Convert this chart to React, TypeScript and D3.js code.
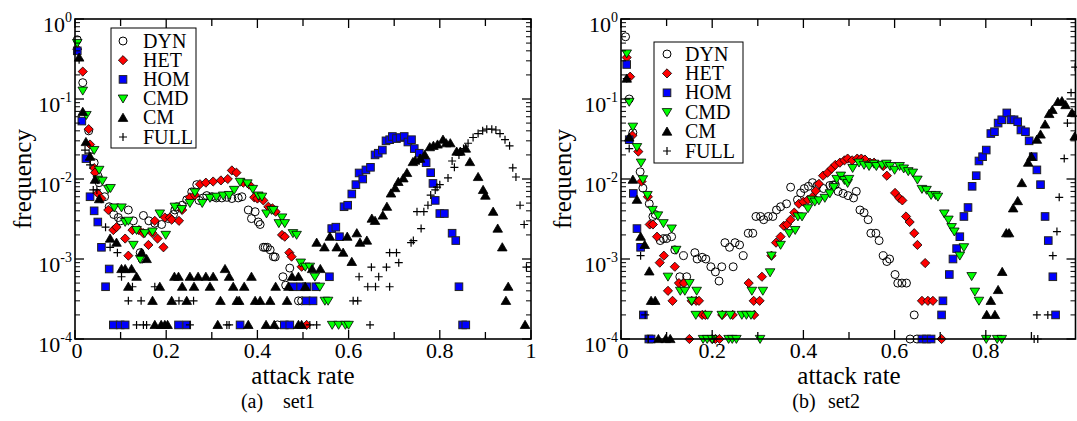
import React from 'react';
import * as d3 from 'd3';

// ---------- tick / legend text ----------
const xTickValues = [0, 0.2, 0.4, 0.6, 0.8, 1];
const xTickLabels = ['0', '0.2', '0.4', '0.6', '0.8', '1'];
const yTickValues = [1e-4, 1e-3, 1e-2, 1e-1, 1];
const yTickExponents = ['-4', '-3', '-2', '-1', '0'];
const seriesNames = ['DYN', 'HET', 'HOM', 'CMD', 'CM', 'FULL'];

// ---------- set1 (panel a) ----------
const set1DYN: [number, number][] = [
  [0.005, 0.55], [0.017, 0.16], [0.03, 0.04], [0.042, 0.016], [0.05, 0.011], [0.053, 0.009], [0.065, 0.006],
  [0.075, 0.0045], [0.085, 0.0036], [0.095, 0.0033], [0.1, 0.003], [0.117, 0.0041], [0.128, 0.003], [0.143, 0.0012],
  [0.147, 0.001], [0.15, 0.0035], [0.162, 0.003], [0.175, 0.0028], [0.19, 0.0027], [0.205, 0.0032], [0.216, 0.0036],
  [0.219, 0.0041], [0.223, 0.0045], [0.235, 0.0047], [0.245, 0.0055], [0.256, 0.0069], [0.267, 0.0085], [0.272, 0.0054],
  [0.281, 0.0058], [0.289, 0.0062], [0.3, 0.006], [0.31, 0.0058], [0.322, 0.0058], [0.333, 0.0059], [0.344, 0.0057],
  [0.358, 0.0058], [0.366, 0.006], [0.38, 0.0041], [0.387, 0.0032], [0.395, 0.0039], [0.402, 0.0029], [0.406, 0.0027],
  [0.413, 0.0014], [0.417, 0.0014], [0.422, 0.0014], [0.428, 0.0013], [0.435, 0.00107], [0.439, 0.00106],
  [0.444, 0.00015], [0.456, 0.0006], [0.462, 0.00047], [0.471, 0.00077], [0.49, 0.0003], [0.497, 0.0003],
];
const set1HET: [number, number][] = [
  [0.005, 0.42], [0.017, 0.22], [0.03, 0.042], [0.033, 0.027], [0.042, 0.0137], [0.044, 0.012], [0.05, 0.0066],
  [0.058, 0.0057], [0.073, 0.0041], [0.084, 0.0023], [0.091, 0.0025], [0.11, 0.0018], [0.117, 0.0011], [0.126, 0.0023],
  [0.14, 0.0023], [0.15, 0.0021], [0.161, 0.0015], [0.17, 0.0021], [0.175, 0.003], [0.181, 0.0018], [0.194, 0.0014],
  [0.197, 0.0033], [0.208, 0.0033], [0.212, 0.0031], [0.228, 0.003], [0.235, 0.0041], [0.252, 0.0059], [0.263, 0.0063],
  [0.274, 0.0086], [0.287, 0.009], [0.303, 0.0093], [0.32, 0.0096], [0.335, 0.01], [0.344, 0.0128], [0.354, 0.012],
  [0.369, 0.009], [0.382, 0.0085], [0.393, 0.0059], [0.4, 0.0057], [0.413, 0.0054], [0.424, 0.0045], [0.433, 0.0043],
  [0.44, 0.0039], [0.454, 0.002], [0.46, 0.0019], [0.47, 0.0012], [0.475, 0.00107], [0.497, 0.0008], [0.508, 0.00015],
];
const set1HOM: [number, number][] = [
  [0.005, 0.4], [0.015, 0.053], [0.024, 0.018], [0.033, 0.006], [0.042, 0.004], [0.05, 0.0029], [0.058, 0.0014],
  [0.067, 0.00045], [0.075, 0.00075], [0.084, 0.00015], [0.099, 0.00015], [0.11, 0.00015], [0.227, 0.00015],
  [0.245, 0.00015], [0.362, 0.00015], [0.459, 0.00015], [0.471, 0.00015], [0.478, 0.00045], [0.495, 0.00045],
  [0.507, 0.0003], [0.508, 0.00045], [0.522, 0.0003], [0.528, 0.00045], [0.558, 0.0006], [0.563, 0.0024],
  [0.572, 0.0025], [0.58, 0.0019], [0.59, 0.0045], [0.598, 0.0047], [0.607, 0.0065], [0.616, 0.0085], [0.623, 0.0119],
  [0.631, 0.01], [0.638, 0.013], [0.648, 0.014], [0.658, 0.02], [0.665, 0.021], [0.674, 0.023], [0.682, 0.03],
  [0.69, 0.031], [0.696, 0.034], [0.705, 0.032], [0.713, 0.033], [0.722, 0.034], [0.73, 0.029], [0.738, 0.031],
  [0.744, 0.024], [0.755, 0.021], [0.763, 0.018], [0.77, 0.016], [0.78, 0.012], [0.785, 0.0088], [0.79, 0.0054],
  [0.8, 0.0037], [0.81, 0.0037], [0.827, 0.0021], [0.835, 0.0017], [0.842, 0.00045], [0.85, 0.00015], [0.857, 0.00015],
];
const set1CMD: [number, number][] = [
  [0.005, 0.5], [0.017, 0.127], [0.025, 0.063], [0.042, 0.023], [0.05, 0.0098], [0.053, 0.013], [0.06, 0.0095],
  [0.073, 0.0075], [0.078, 0.0077], [0.086, 0.0044], [0.102, 0.0044], [0.11, 0.0029], [0.117, 0.003], [0.128, 0.0015],
  [0.135, 0.0023], [0.143, 0.001], [0.153, 0.0021], [0.17, 0.0022], [0.186, 0.0037], [0.199, 0.002], [0.219, 0.0045],
  [0.234, 0.0042], [0.252, 0.005], [0.263, 0.0068], [0.279, 0.005], [0.296, 0.0058], [0.31, 0.006], [0.325, 0.0062],
  [0.338, 0.0063], [0.349, 0.0073], [0.362, 0.0092], [0.378, 0.0088], [0.39, 0.0075], [0.402, 0.0062], [0.41, 0.006],
  [0.42, 0.0037], [0.431, 0.0041], [0.435, 0.0041], [0.447, 0.0028], [0.454, 0.0033], [0.46, 0.0028], [0.478, 0.0021],
  [0.486, 0.002], [0.495, 0.0009], [0.505, 0.0008], [0.515, 0.0008], [0.526, 0.0006], [0.537, 0.00045],
  [0.548, 0.0003], [0.555, 0.0003], [0.564, 0.00015], [0.578, 0.00015], [0.593, 0.00015], [0.6, 0.00015],
];
const set1CM: [number, number][] = [
  [0.009, 0.33], [0.017, 0.069], [0.024, 0.029], [0.033, 0.019], [0.044, 0.0098], [0.053, 0.0056], [0.077, 0.0018],
  [0.091, 0.0016], [0.102, 0.00075], [0.11, 0.00075], [0.117, 0.00045], [0.124, 0.00075], [0.135, 0.0006],
  [0.146, 0.0012], [0.157, 0.001], [0.17, 0.0003], [0.175, 0.00015], [0.186, 0.00045], [0.189, 0.00015],
  [0.197, 0.00015], [0.203, 0.00015], [0.212, 0.0003], [0.218, 0.0006], [0.227, 0.0006], [0.235, 0.00045],
  [0.245, 0.0003], [0.252, 0.0006], [0.261, 0.00045], [0.27, 0.0006], [0.287, 0.0006], [0.296, 0.00045],
  [0.303, 0.0006], [0.313, 0.00015], [0.319, 0.0003], [0.329, 0.00075], [0.338, 0.0006], [0.347, 0.00045],
  [0.355, 0.0003], [0.36, 0.0003], [0.371, 0.00045], [0.38, 0.00015], [0.387, 0.0006], [0.395, 0.0003],
  [0.406, 0.0003], [0.419, 0.00015], [0.428, 0.0003], [0.437, 0.00015], [0.44, 0.00045], [0.465, 0.0003],
  [0.468, 0.00045], [0.476, 0.0006], [0.49, 0.0006], [0.49, 0.00015], [0.497, 0.00015], [0.505, 0.00045],
  [0.52, 0.00075], [0.53, 0.0016], [0.538, 0.00075], [0.547, 0.0014], [0.559, 0.0019], [0.574, 0.0014],
  [0.588, 0.0012], [0.597, 0.0019], [0.607, 0.00092], [0.618, 0.0021], [0.625, 0.0016], [0.64, 0.0017],
  [0.651, 0.0032], [0.658, 0.003], [0.675, 0.0035], [0.684, 0.0045], [0.693, 0.0066], [0.702, 0.0077],
  [0.709, 0.0092], [0.72, 0.0102], [0.728, 0.0119], [0.741, 0.0163], [0.746, 0.017], [0.757, 0.018], [0.767, 0.02],
  [0.778, 0.025], [0.786, 0.026], [0.795, 0.027], [0.807, 0.031], [0.814, 0.028], [0.823, 0.028], [0.837, 0.022],
  [0.845, 0.022], [0.857, 0.024], [0.866, 0.0163], [0.884, 0.0106], [0.895, 0.0073], [0.9, 0.0062], [0.917, 0.0039],
  [0.927, 0.0024], [0.937, 0.0014], [0.945, 0.0003], [0.95, 0.00045], [0.987, 0.00015],
];
const set1FULL: [number, number][] = [
  [0.009, 0.31], [0.022, 0.023], [0.031, 0.021], [0.033, 0.015], [0.04, 0.0073], [0.048, 0.0073], [0.067, 0.0025],
  [0.077, 0.0014], [0.093, 0.0012], [0.102, 0.0006], [0.117, 0.0003], [0.126, 0.00045], [0.135, 0.00015],
  [0.145, 0.0003], [0.15, 0.00015], [0.157, 0.00015], [0.175, 0.00045], [0.228, 0.0003], [0.252, 0.00015],
  [0.26, 0.0003], [0.333, 0.00015], [0.338, 0.00015], [0.515, 0.00015], [0.53, 0.00015], [0.61, 0.0003],
  [0.62, 0.0003], [0.623, 0.0006], [0.642, 0.00045], [0.647, 0.00015], [0.65, 0.00079], [0.659, 0.00045],
  [0.666, 0.0006], [0.683, 0.00079], [0.69, 0.0012], [0.69, 0.00045], [0.705, 0.0012], [0.71, 0.0009],
  [0.737, 0.0016], [0.742, 0.0017], [0.75, 0.0039], [0.759, 0.0024], [0.765, 0.0039], [0.774, 0.0047], [0.78, 0.0063],
  [0.79, 0.0073], [0.794, 0.0079], [0.8, 0.0085], [0.818, 0.0103], [0.827, 0.0168], [0.832, 0.014], [0.842, 0.02],
  [0.852, 0.024], [0.862, 0.028], [0.873, 0.033], [0.884, 0.037], [0.894, 0.04], [0.903, 0.042], [0.914, 0.042],
  [0.923, 0.041], [0.932, 0.037], [0.943, 0.031], [0.953, 0.026], [0.96, 0.0138], [0.967, 0.0106], [0.976, 0.0047],
  [0.985, 0.0027], [0.99, 0.00079],
];

// ---------- set2 (panel b) ----------
const set2DYN: [number, number][] = [
  [0.01, 0.6], [0.018, 0.1], [0.026, 0.038], [0.042, 0.0123], [0.048, 0.0077], [0.062, 0.0049], [0.07, 0.0034],
  [0.075, 0.0036], [0.086, 0.0017], [0.093, 0.0018], [0.1, 0.0018], [0.111, 0.0019], [0.118, 0.0013], [0.129, 0.0006],
  [0.137, 0.0011], [0.144, 0.0006], [0.162, 0.0012], [0.167, 0.001], [0.178, 0.00105], [0.186, 0.001], [0.197, 0.0008],
  [0.207, 0.00069], [0.215, 0.00053], [0.221, 0.0008], [0.228, 0.0016], [0.238, 0.0014], [0.246, 0.0008],
  [0.25, 0.0016], [0.26, 0.0015], [0.268, 0.0011], [0.279, 0.0021], [0.289, 0.0021], [0.296, 0.0034], [0.306, 0.0034],
  [0.313, 0.0031], [0.323, 0.0034], [0.333, 0.0034], [0.341, 0.0041], [0.35, 0.0045], [0.363, 0.0049],
  [0.372, 0.0079], [0.387, 0.0055], [0.394, 0.0067], [0.402, 0.0076], [0.411, 0.0081], [0.42, 0.009], [0.43, 0.0083],
  [0.444, 0.0076], [0.458, 0.0083], [0.465, 0.0084], [0.47, 0.0085], [0.476, 0.007], [0.487, 0.0066],
  [0.498, 0.0062], [0.51, 0.0058], [0.516, 0.007], [0.524, 0.0041], [0.533, 0.0038], [0.542, 0.0031],
  [0.548, 0.0021], [0.559, 0.0021], [0.566, 0.0017], [0.575, 0.0011], [0.583, 0.00093], [0.589, 0.001],
  [0.601, 0.00064], [0.607, 0.0005], [0.616, 0.0005], [0.626, 0.0005], [0.634, 0.0001], [0.643, 0.0002],
  [0.649, 0.0001],
];
const set2HET: [number, number][] = [
  [0.0125, 0.33], [0.02, 0.19], [0.025, 0.035], [0.038, 0.022], [0.045, 0.0093], [0.059, 0.006], [0.063, 0.0027],
  [0.07, 0.0027], [0.079, 0.0019], [0.085, 0.0009], [0.094, 0.0011], [0.103, 0.0004], [0.113, 0.0003],
  [0.118, 0.0008], [0.127, 0.0005], [0.138, 0.0005], [0.15, 0.0001], [0.155, 0.0003], [0.165, 0.0003],
  [0.171, 0.0003], [0.178, 0.0002], [0.185, 0.0002], [0.2, 0.0001], [0.207, 0.0001], [0.216, 0.0001],
  [0.222, 0.0002], [0.245, 0.0002], [0.28, 0.0005], [0.291, 0.0003], [0.292, 0.0002], [0.304, 0.0003],
  [0.309, 0.0006], [0.33, 0.0011], [0.34, 0.0016], [0.35, 0.0019], [0.357, 0.0026], [0.364, 0.0027],
  [0.372, 0.0031], [0.38, 0.0038], [0.39, 0.0049], [0.4, 0.0052], [0.41, 0.0055], [0.42, 0.006], [0.427, 0.0071],
  [0.434, 0.0087], [0.443, 0.011], [0.453, 0.012], [0.462, 0.0135], [0.47, 0.015], [0.48, 0.016], [0.49, 0.0171],
  [0.497, 0.018], [0.507, 0.0171], [0.518, 0.018], [0.527, 0.018], [0.535, 0.0175], [0.546, 0.016], [0.555, 0.016],
  [0.575, 0.0145], [0.583, 0.011], [0.601, 0.0067], [0.61, 0.0058], [0.617, 0.0054], [0.625, 0.0034],
  [0.633, 0.0029], [0.643, 0.0021], [0.65, 0.0015], [0.667, 0.00089], [0.66, 0.0003], [0.673, 0.0003],
  [0.684, 0.0003], [0.703, 0.0001],
];
const set2HOM: [number, number][] = [
  [0.0125, 0.27], [0.018, 0.031], [0.027, 0.0066], [0.035, 0.0024], [0.043, 0.0014], [0.049, 0.0002],
  [0.061, 0.0001], [0.066, 0.0001], [0.66, 0.0001], [0.67, 0.0001], [0.68, 0.0001], [0.703, 0.0002],
  [0.706, 0.0003], [0.72, 0.00064], [0.728, 0.001], [0.736, 0.00135], [0.743, 0.0019], [0.752, 0.0034],
  [0.761, 0.0044], [0.77, 0.0081], [0.779, 0.011], [0.785, 0.0168], [0.793, 0.019], [0.801, 0.023], [0.811, 0.037],
  [0.819, 0.039], [0.827, 0.05], [0.835, 0.055], [0.846, 0.067], [0.855, 0.055], [0.862, 0.055], [0.87, 0.052],
  [0.877, 0.041], [0.887, 0.039], [0.895, 0.03], [0.904, 0.019], [0.912, 0.013], [0.92, 0.0085], [0.93, 0.0034],
  [0.937, 0.0017], [0.947, 0.0006], [0.953, 0.0002],
];
const set2CMD: [number, number][] = [
  [0.0125, 0.37], [0.018, 0.092], [0.026, 0.045], [0.035, 0.025], [0.044, 0.016], [0.048, 0.0099], [0.058, 0.0063],
  [0.069, 0.0041], [0.081, 0.0035], [0.093, 0.0028], [0.103, 0.0006], [0.111, 0.0024], [0.121, 0.0013],
  [0.13, 0.0004], [0.14, 0.0004], [0.15, 0.0005], [0.155, 0.0003], [0.164, 0.0002], [0.166, 0.0004],
  [0.18, 0.0001], [0.189, 0.0001], [0.19, 0.0002], [0.2, 0.0001], [0.221, 0.0002], [0.236, 0.0001],
  [0.24, 0.0002], [0.244, 0.0001], [0.253, 0.0001], [0.265, 0.0002], [0.275, 0.0002], [0.285, 0.0002],
  [0.287, 0.0004], [0.305, 0.0001], [0.311, 0.0004], [0.327, 0.00068], [0.33, 0.0011], [0.35, 0.0015],
  [0.369, 0.0021], [0.382, 0.0023], [0.388, 0.0034], [0.397, 0.0034], [0.41, 0.0043], [0.418, 0.0055],
  [0.425, 0.0052], [0.434, 0.0054], [0.447, 0.0058], [0.458, 0.0066], [0.467, 0.0079], [0.473, 0.01],
  [0.482, 0.011], [0.49, 0.0097], [0.497, 0.0089], [0.5, 0.01], [0.508, 0.0137], [0.522, 0.016], [0.533, 0.015],
  [0.544, 0.0145], [0.555, 0.0155], [0.56, 0.0145], [0.573, 0.015], [0.582, 0.0155], [0.59, 0.0145], [0.6, 0.013],
  [0.611, 0.0145], [0.62, 0.0135], [0.63, 0.0125], [0.64, 0.012], [0.65, 0.0098], [0.66, 0.0075], [0.67, 0.0073],
  [0.68, 0.0063], [0.69, 0.0063], [0.695, 0.006], [0.709, 0.0037], [0.718, 0.0031], [0.725, 0.0025],
  [0.731, 0.0022], [0.743, 0.0011], [0.752, 0.0014], [0.769, 0.00061], [0.776, 0.00039], [0.785, 0.0003],
  [0.801, 0.0001], [0.825, 0.0001], [0.835, 0.0001],
];
const set2CM: [number, number][] = [
  [0.0125, 0.18], [0.018, 0.033], [0.026, 0.0098], [0.035, 0.0055], [0.043, 0.0019], [0.052, 0.0015],
  [0.062, 0.0007], [0.066, 0.0003], [0.075, 0.0003], [0.082, 0.0001], [0.098, 0.0001], [0.108, 0.0001],
  [0.802, 0.0002], [0.811, 0.0003], [0.82, 0.0002], [0.827, 0.00041], [0.836, 0.00069], [0.845, 0.0021],
  [0.851, 0.0021], [0.86, 0.0043], [0.87, 0.0053], [0.879, 0.0089], [0.893, 0.016], [0.9, 0.019], [0.912, 0.031],
  [0.92, 0.036], [0.93, 0.048], [0.939, 0.065], [0.946, 0.073], [0.958, 0.092], [0.967, 0.094], [0.975, 0.084],
  [0.989, 0.067], [0.995, 0.034],
];
const set2FULL: [number, number][] = [
  [0.0125, 0.18], [0.018, 0.024], [0.043, 0.0011], [0.053, 0.0002], [0.06, 0.0001], [0.204, 0.0001],
  [0.906, 0.0001], [0.912, 0.0002], [0.914, 0.0001], [0.936, 0.0002], [0.947, 0.0011], [0.956, 0.0022],
  [0.961, 0.0059], [0.972, 0.018], [0.979, 0.05], [0.987, 0.12], [0.996, 0.25],
];

// ---------- layout ----------
const TOP = 19;
const BOTTOM = 339;
const PW = 456;
const FONT = 'Liberation Serif, DejaVu Serif, serif';

type Kind = 'circle' | 'diamond' | 'square' | 'tridown' | 'triup' | 'plus';
const kinds: Kind[] = ['circle', 'diamond', 'square', 'tridown', 'triup', 'plus'];

function Marker({ kind, x, y }: { kind: Kind; x: number; y: number }) {
  switch (kind) {
    case 'circle':
      return <circle cx={x} cy={y} r={4} fill="none" stroke="#000" strokeWidth={1} />;
    case 'diamond':
      return <path d={`M${x},${y - 4.6}L${x + 4.6},${y}L${x},${y + 4.6}L${x - 4.6},${y}Z`} fill="#ff0000" stroke="#000" strokeWidth={0.8} />;
    case 'square':
      return <rect x={x - 3.8} y={y - 3.8} width={7.6} height={7.6} fill="#0000ff" stroke="#222" strokeWidth={1} />;
    case 'tridown':
      return <path d={`M${x - 4.8},${y - 3.6}L${x + 4.8},${y - 3.6}L${x},${y + 4.4}Z`} fill="#00ff00" stroke="#000" strokeWidth={0.8} />;
    case 'triup':
      return <path d={`M${x},${y - 4.6}L${x + 4.8},${y + 3.6}L${x - 4.8},${y + 3.6}Z`} fill="#000" stroke="#000" strokeWidth={0.8} />;
    case 'plus':
      return <path d={`M${x - 4},${y}H${x + 4}M${x},${y - 4}V${y + 4}`} stroke="#000" strokeWidth={1.2} fill="none" />;
  }
}

interface PanelProps {
  x0: number;
  series: [number, number][][];
  legend: { x: number; y: number; w: number; h: number; sx: number; tx: number; y0: number; dy: number };
  ylabelX: number;
  caption: [string, string];
  captionX: [number, number];
  showLastLabel: boolean;
}

const textStyle = { fontFamily: FONT };

function Panel({ x0, series, legend, ylabelX, caption, captionX, showLastLabel }: PanelProps) {
  const x = d3.scaleLinear().domain([0, 1]).range([x0, x0 + PW]);
  const y = d3.scaleLog().domain([1e-4, 1]).range([BOTTOM, TOP]);
  const xr = Math.min(x0 + PW, 1075.5);
  const minorX = d3.range(0, 11).map((i) => i / 10);
  const minorY: number[] = [];
  for (let e = -4; e < 0; e++) for (let k = 2; k <= 9; k++) minorY.push(k * Math.pow(10, e));

  return (
    <g>
      {series.map((pts, si) => (
        <g key={si}>
          {pts.map((p, i) => (
            <Marker key={i} kind={kinds[si]} x={x(p[0])} y={y(p[1])} />
          ))}
        </g>
      ))}
      {/* frame */}
      <rect x={x0} y={TOP} width={xr - x0} height={BOTTOM - TOP} fill="none" stroke="#000" strokeWidth={1.6} />
      {/* x ticks */}
      {minorX.map((v, i) => {
        const px = x(v);
        if (px > xr) return null;
        const len = i % 2 === 0 ? 9 : 7;
        return (
          <g key={'xt' + i}>
            <line x1={px} x2={px} y1={BOTTOM} y2={BOTTOM - len} stroke="#000" strokeWidth={1.3} />
            <line x1={px} x2={px} y1={TOP} y2={TOP + len} stroke="#000" strokeWidth={1.3} />
          </g>
        );
      })}
      {/* y ticks */}
      {yTickValues.map((v, i) => (
        <g key={'yt' + i}>
          <line x1={x0} x2={x0 + 9} y1={y(v)} y2={y(v)} stroke="#000" strokeWidth={1.3} />
          <line x1={xr} x2={xr - 9} y1={y(v)} y2={y(v)} stroke="#000" strokeWidth={1.3} />
        </g>
      ))}
      {minorY.map((v, i) => (
        <g key={'ym' + i}>
          <line x1={x0} x2={x0 + 5} y1={y(v)} y2={y(v)} stroke="#000" strokeWidth={1} />
          <line x1={xr} x2={xr - 5} y1={y(v)} y2={y(v)} stroke="#000" strokeWidth={1} />
        </g>
      ))}
      {/* x tick labels */}
      {xTickValues.map((v, i) =>
        !showLastLabel && i === xTickValues.length - 1 ? null : (
          <text key={'xl' + i} x={x(v) + (i === 0 ? 2 : 0)} y={358} textAnchor="middle" style={textStyle} fontSize={22} fill="#000">
            {xTickLabels[i]}
          </text>
        )
      )}
      {/* y tick labels */}
      {yTickValues.map((v, i) => (
        <text key={'yl' + i} x={x0 - 3} y={y(v) + 13} textAnchor="end" style={textStyle} fill="#000">
          <tspan fontSize={22}>10</tspan>
          <tspan fontSize={14} dy={-10}>{yTickExponents[i]}</tspan>
        </text>
      ))}
      {/* axis titles */}
      <text x={x0 + PW / 2} y={384} textAnchor="middle" style={textStyle} fontSize={25} fill="#000">attack rate</text>
      <text transform={`translate(${ylabelX},${(TOP + BOTTOM) / 2}) rotate(-90)`} textAnchor="middle" style={textStyle} fontSize={25} fill="#000">frequency</text>
      {/* caption */}
      <text x={captionX[0]} y={408} textAnchor="middle" style={textStyle} fontSize={20} fill="#000">{caption[0]}</text>
      <text x={captionX[1]} y={408} textAnchor="middle" style={textStyle} fontSize={20} fill="#000">{caption[1]}</text>
      {/* legend */}
      <rect x={legend.x} y={legend.y} width={legend.w} height={legend.h} fill="#fff" stroke="#000" strokeWidth={1} />
      {seriesNames.map((name, i) => {
        const cy = legend.y0 + i * legend.dy;
        return (
          <g key={'lg' + i}>
            <Marker kind={kinds[i]} x={legend.sx} y={cy} />
            <text x={legend.tx} y={cy + 6.5} style={textStyle} fontSize={20} fill="#000">{name}</text>
          </g>
        );
      })}
    </g>
  );
}

export default function App() {
  return (
    <svg width={1077} height={421} style={{ position: 'absolute', left: 0, top: 0, background: '#fff' }}>
      <rect x={0} y={0} width={1077} height={421} fill="#fff" />
      <Panel
        x0={75}
        series={[set1DYN, set1HET, set1HOM, set1CMD, set1CM, set1FULL]}
        legend={{ x: 111, y: 28, w: 85, h: 120, sx: 123, tx: 143, y0: 41, dy: 19.2 }}
        ylabelX={31}
        caption={['(a)', 'set1']}
        captionX={[252, 299]}
        showLastLabel={true}
      />
      <Panel
        x0={621}
        series={[set2DYN, set2HET, set2HOM, set2CMD, set2CM, set2FULL]}
        legend={{ x: 654, y: 42, w: 89, h: 121, sx: 667, tx: 685, y0: 54, dy: 19.4 }}
        ylabelX={571}
        caption={['(b)', 'set2']}
        captionX={[804, 844]}
        showLastLabel={false}
      />
    </svg>
  );
}
